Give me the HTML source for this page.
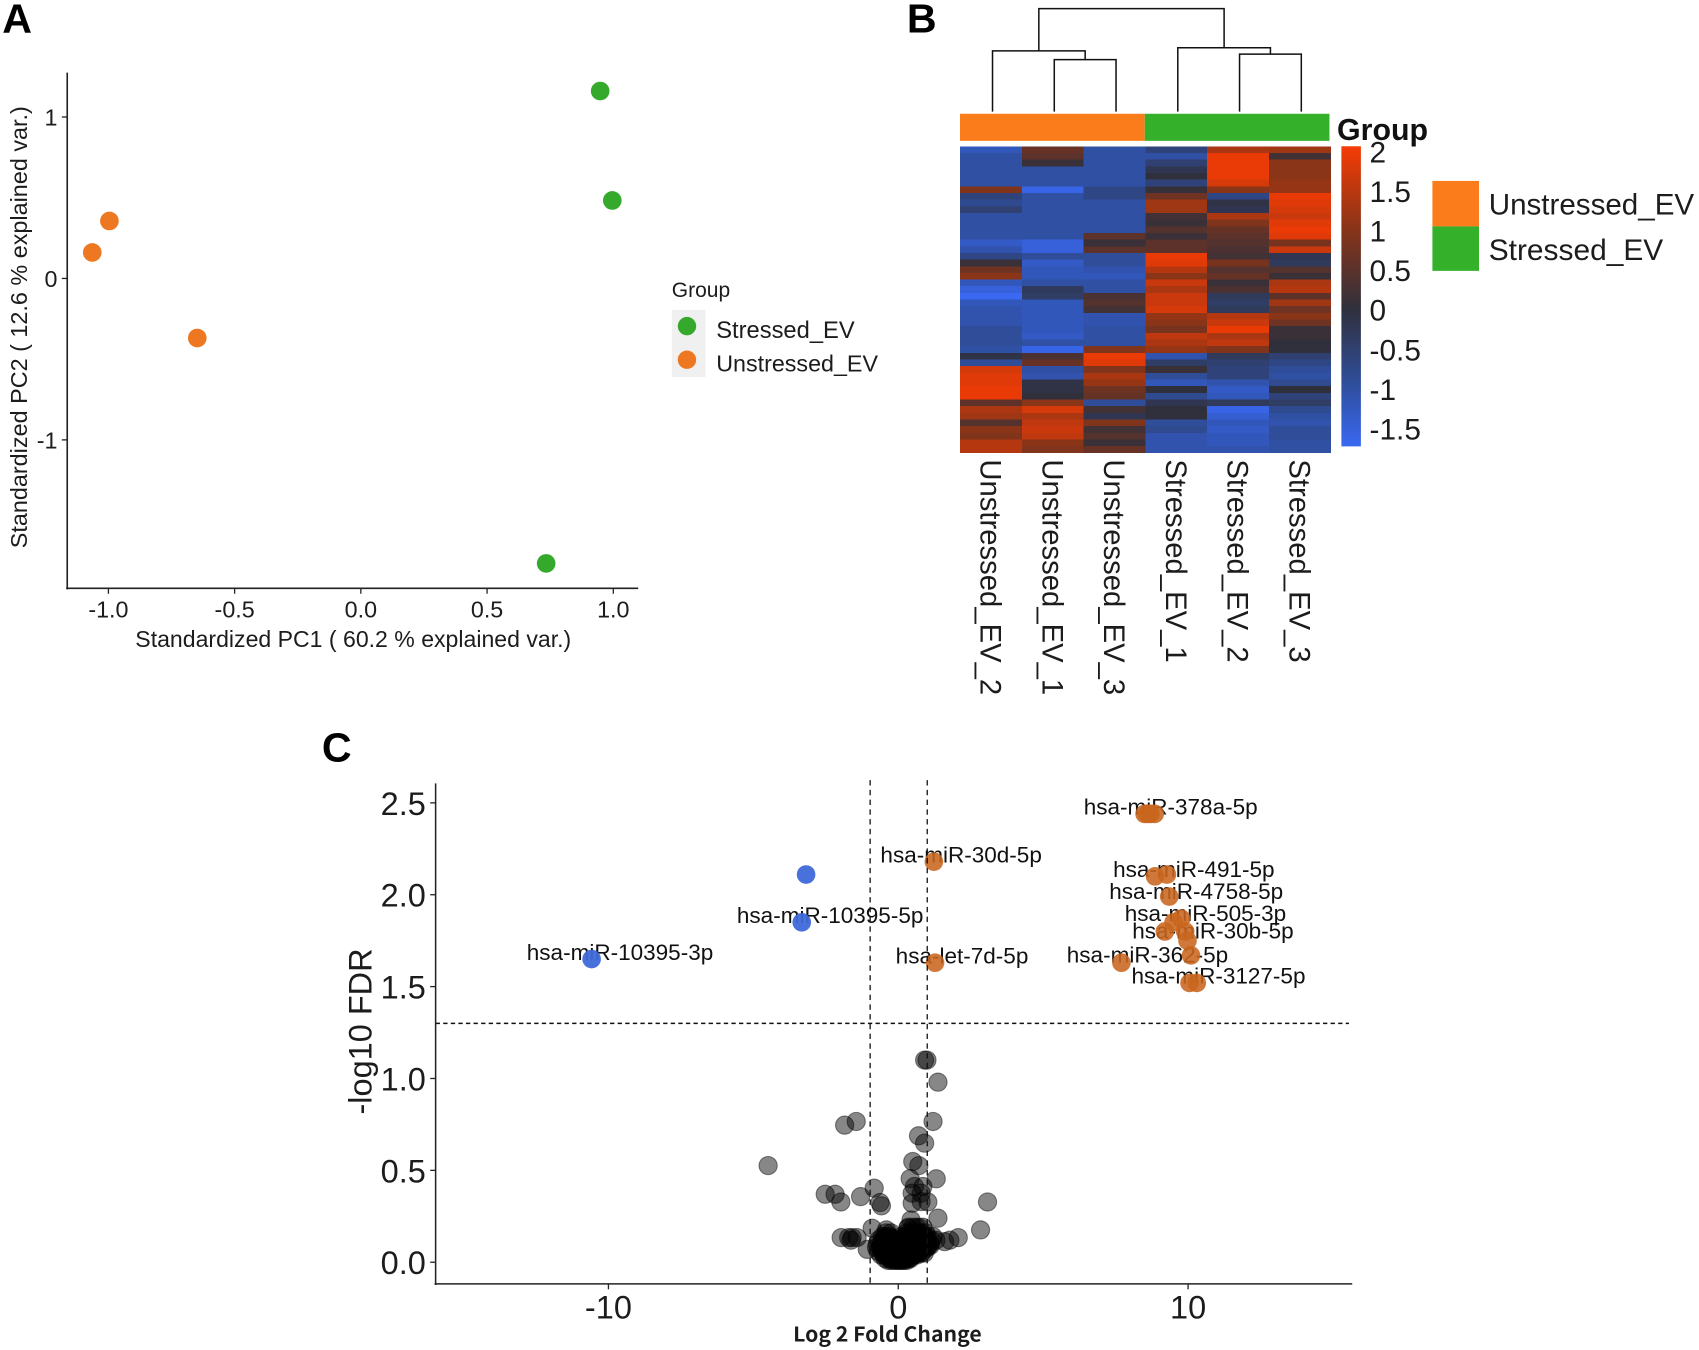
<!DOCTYPE html>
<html lang="en">
<head>
<meta charset="utf-8">
<title>PCA, heatmap and volcano plot of Stressed vs Unstressed EV miRNA</title>
<style>
html,body{margin:0;padding:0;background:#fff;width:1699px;height:1350px;overflow:hidden}
svg{display:block;font-family:"Liberation Sans",Arial,sans-serif;fill:#1c1c1c}
</style>
</head>
<body>
<svg id="fig" width="1699" height="1350" viewBox="0 0 1568 1246" xmlns="http://www.w3.org/2000/svg">
  <rect width="1568" height="1246" fill="#ffffff"/>
  <text x="2" y="30" font-size="38" font-weight="bold" fill="#000">A</text>
  <text x="837" y="30" font-size="38" font-weight="bold" fill="#000">B</text>
  <text x="297" y="703" font-size="38" font-weight="bold" fill="#000">C</text>

  <g id="panelA">
    <text x="326" y="597" font-size="21.3" text-anchor="middle">Standardized PC1 ( 60.2 % explained var.)</text>
    <text transform="translate(25,302) rotate(-90)" font-size="21.6" text-anchor="middle">Standardized PC2 ( 12.6 % explained var.)</text>
    <text x="620" y="274" font-size="19.4">Group</text>
    <rect x="620" y="286" width="31" height="62" fill="#f0f0f0"/>
    <circle cx="634" cy="301" r="8.5" fill="#35a92c"/>
    <circle cx="634" cy="332" r="8.5" fill="#ee7722"/>
    <text x="661" y="312" font-size="21.9">Stressed_EV</text>
    <text x="661" y="343" font-size="21.5">Unstressed_EV</text>
  </g>

  <g id="panelB">
    <rect x="886" y="105" width="170.5" height="25" fill="#fa7c1a"/>
    <rect x="1056.5" y="105" width="170.5" height="25" fill="#35b02a"/>
    <text x="1234" y="129" font-size="28" font-weight="bold" fill="#111">Group</text>
    <rect x="1322" y="167" width="43" height="42" fill="#fa7c1a"/>
    <rect x="1322" y="209" width="43" height="41" fill="#35b02a"/>
    <text x="1374" y="198" font-size="27.3">Unstressed_EV</text>
    <text x="1374" y="240" font-size="27.6">Stressed_EV</text>
  </g>

  <g id="panelC">
    <text transform="translate(343,952) rotate(-90)" font-size="30" text-anchor="middle">-log10 FDR</text>
    <text x="819" y="1238" font-size="19" font-weight="bold" text-anchor="middle" textLength="174" lengthAdjust="spacingAndGlyphs" style="font-family:'Noto Sans CJK JP','DejaVu Sans',sans-serif">Log 2 Fold Change</text>
  </g>
</svg>

<script>
// ---------- Panel A data ----------
const pcaXTicks = [-1.0, -0.5, 0.0, 0.5, 1.0];
const pcaYTicks = [1, 0, -1];
const stressedPC1 = [0.948, 0.996, 0.734];
const stressedPC2 = [1.161, 0.483, -1.765];
const unstressedPC1 = [-0.996, -1.064, -0.648];
const unstressedPC2 = [0.356, 0.161, -0.369];

// ---------- Panel B data ----------
const sampleNames = ['Unstressed_EV_2','Unstressed_EV_1','Unstressed_EV_3','Stressed_EV_1','Stressed_EV_2','Stressed_EV_3'];
const unstressed2 = [-1.2,-1,-1,-1,-1,-1,0.9,-0.6,-0.8,-0.5,-1,-1,-1,-1,-1.3,-1.1,-0.7,0.1,0.7,1,-1.2,-1.5,-1.7,-1.2,-1.1,-1.1,-1.1,-0.9,-0.9,-0.9,-1,-0.1,-0.9,1.7,1.8,1.8,1.9,1.9,0.5,1.3,1.2,0.4,1,0.9,1.4,1.4];
const unstressed1 = [0.6,0.5,0.1,-1,-1,-1,-1.6,-1,-1,-1,-1,-1,-1,-1,-1.5,-1.5,-0.9,-1.3,-1.2,-1.2,-1,-0.3,-0.4,-1.2,-1.2,-1.2,-1.2,-1.2,-1.3,-1,-1.6,0.3,0.6,-1,-1.1,-0.1,-0.1,0,1,1.7,1.3,1.5,1.6,1.5,1,0.9];
const unstressed3 = [-1,-1,-1,-1,-1,-1,-0.7,-0.7,-1,-1,-1,-1,-1,0.5,0.1,0.5,-0.9,-0.9,-1.1,-1.2,-1,-1,0.3,0.4,0.2,-1.1,-1.1,-1,-1,-1,0.9,1.9,1.8,0.9,1.3,1.1,0.7,0.6,-0.9,0.2,-0.2,0.9,0.2,0.4,0.1,0.6];
const stressed1 = [-0.6,-1,-0.5,-0.2,0,-0.6,0.05,0.7,1.2,1.2,0.2,0.1,0.4,0.1,0.5,0.5,1.9,1.8,1.4,1,1.6,1.3,1.6,1.6,1.7,1.1,1,0.8,1.5,1.3,1.1,-1.1,-0.4,0.1,-0.9,-1.2,0,-0.8,-0.2,0,0,-0.9,-0.8,-1.1,-1.1,-1.1];
const stressed2 = [1.3,1.9,1.9,1.9,1.9,1.7,1,-0.7,-0.1,-0.2,1.3,0.9,0.6,0.5,0.4,0.3,0.2,0.8,0.4,0.6,0.1,0.3,-0.3,-0.4,-0.3,1.4,1.6,1.9,1.3,1.5,0.9,-0.3,-0.5,-0.6,-0.6,-1.1,-1.3,-1.2,-0.3,-1.6,-1.4,-1.2,-1.3,-1.2,-1.2,-1.1];
const stressed3 = [1.2,0.2,1,1,1,1.1,1.1,1.9,1.8,1.7,1.6,1.8,1.9,1.8,0.8,1.6,-0.2,-0.3,0.4,0.1,1.3,1.4,0.5,1.2,0.7,1,0.7,0.1,0.1,0,0,-0.5,-0.7,-0.9,-1,-0.8,0,-0.6,-0.4,-0.8,-1,-1.1,-0.9,-0.9,-1,-1];
const heatColumns = [unstressed2, unstressed1, unstressed3, stressed1, stressed2, stressed3];
const colorbarTicks = ['2','1.5','1','0.5','0','-0.5','-1','-1.5'];
const colorValues = [-1.7, -1, 0, 1, 2];
const colorStops = [[58,104,242],[47,80,163],[48,48,60],[138,52,24],[245,60,5]];
// dendrogram: merge heights (fraction of tree height); leaves are column indices
const dendroTree = {h:1, l:{h:0.59, l:0, r:{h:0.505, l:1, r:2}}, r:{h:0.62, l:3, r:{h:0.558, l:4, r:5}}};

// ---------- Panel C data ----------
const volcanoXTicks = [-10, 0, 10];
const volcanoYTicks = ['0.0','0.5','1.0','1.5','2.0','2.5'];
const thresholdFdr = 1.3;
const thresholdLfc = [-0.97, 1];
const downLfc = [-3.18, -3.33, -10.58];
const downFdr = [2.11, 1.85, 1.65];
const upLfc = [8.5,8.6,8.7,8.85,1.23,1.27,8.86,9.27,9.35,9.5,9.76,9.2,9.9,9.98,7.7,10.1,10.05,10.3];
const upFdr = [2.44,2.44,2.44,2.44,2.18,1.63,2.10,2.11,1.99,1.85,1.87,1.80,1.80,1.75,1.63,1.67,1.52,1.52];
const geneLabels = ['hsa-miR-378a-5p','hsa-miR-30d-5p','hsa-miR-491-5p','hsa-miR-4758-5p','hsa-miR-505-3p','hsa-miR-30b-5p','hsa-miR-362-5p','hsa-miR-3127-5p','hsa-let-7d-5p','hsa-miR-10395-5p','hsa-miR-10395-3p'];
const geneLabelLfc = [9.4,2.17,10.2,10.28,10.6,10.86,8.6,11.05,2.2,-2.35,-9.6];
const geneLabelFdr = [2.43,2.17,2.09,1.97,1.85,1.755,1.625,1.51,1.62,1.84,1.64];
const nsLfc = [0.91,0.99,1.37,-1.45,-1.85,1.2,0.70,0.91,-4.49,0.5,0.71,0.41,1.31,-0.83,-2.52,-2.18,-1.98,-1.30,-0.63,-0.58,0.56,0.85,0.48,0.79,0.48,0.79,1.02,3.08,1.37,2.84,0.44,0.33,-0.9,-0.41,2.07,1.78,1.6,-1.97,-1.71,-1.59,-1.42,-1.63,-1.07,
 -0.35,-0.25,-0.15,-0.08,0,0.07,0.14,0.2,0.3,
 -0.45,-0.3,-0.2,-0.1,0.02,0.1,0.18,0.25,0.35,0.42,
 -0.6,-0.5,-0.38,-0.28,-0.18,-0.05,0.05,0.12,0.22,0.32,0.45,0.55,0.65,
 -0.7,-0.55,-0.42,-0.3,-0.12,-0.02,0.09,0.2,0.3,0.42,0.52,0.62,0.75,0.85,
 -0.75,-0.62,-0.48,-0.33,-0.2,-0.08,0.04,0.15,0.27,0.4,0.5,0.66,0.78,0.9,1.0,
 -0.72,-0.6,-0.45,-0.35,-0.22,-0.1,0.02,0.13,0.25,0.38,0.48,0.6,0.72,0.85,0.95,1.1,
 -0.68,-0.52,-0.4,-0.28,-0.12,0.06,0.2,0.32,0.45,0.58,0.7,0.82,0.98,1.15,1.3,
 -0.55,-0.45,-0.3,0.1,0.22,0.35,0.5,0.62,0.75,0.88,1.0,1.2,
 -0.42,-0.25,0.3,0.42,0.55,0.68,0.8,0.95,
 0.35,0.5,0.62,0.72,0.85,
 -0.5,-0.42,-0.34,-0.26,-0.18,0.15,0.24,0.33,0.42,0.51,0.6,0.69,0.78,0.87,0.96,
 -0.58,-0.5,-0.42,-0.34,-0.26,-0.18,-0.1,-0.02,0.06,0.14,0.22,0.3,0.38,0.46,0.54,0.62,0.7,0.78,0.86,0.94,1.02,1.1,
 -0.5,-0.4,-0.3,-0.2,-0.1,0,0.1,0.2,0.3,0.4,0.5,0.6,0.7,0.8,0.9,
 -0.35,-0.25,-0.15,-0.05,0.05,0.15,0.25,0.35,0.45];
const nsFdr = [1.10,1.10,0.98,0.766,0.746,0.766,0.688,0.648,0.526,0.548,0.526,0.455,0.454,0.403,0.37,0.37,0.328,0.357,0.325,0.307,0.412,0.412,0.376,0.376,0.321,0.33,0.328,0.328,0.24,0.176,0.23,0.185,0.185,0.176,0.134,0.12,0.112,0.134,0.134,0.134,0.134,0.12,0.07,
 0.01,0.01,0.01,0.01,0.01,0.01,0.01,0.01,0.01,
 0.02,0.02,0.02,0.02,0.02,0.02,0.02,0.02,0.02,0.02,
 0.04,0.04,0.04,0.04,0.04,0.04,0.04,0.04,0.04,0.04,0.04,0.04,0.04,
 0.06,0.06,0.06,0.06,0.06,0.06,0.06,0.06,0.06,0.06,0.06,0.06,0.06,0.06,
 0.08,0.08,0.08,0.08,0.08,0.08,0.08,0.08,0.08,0.08,0.08,0.08,0.08,0.08,0.08,
 0.1,0.1,0.1,0.1,0.1,0.1,0.1,0.1,0.1,0.1,0.1,0.1,0.1,0.1,0.1,0.1,
 0.12,0.12,0.12,0.12,0.12,0.12,0.12,0.12,0.12,0.12,0.12,0.12,0.12,0.12,0.12,
 0.14,0.14,0.14,0.14,0.14,0.14,0.14,0.14,0.14,0.14,0.14,0.14,
 0.16,0.16,0.16,0.16,0.16,0.16,0.16,0.16,
 0.19,0.19,0.19,0.19,0.19,
 0.13,0.13,0.13,0.13,0.13,0.13,0.13,0.13,0.13,0.13,0.13,0.13,0.13,0.13,0.13,
 0.09,0.09,0.09,0.09,0.09,0.09,0.09,0.09,0.09,0.09,0.09,0.09,0.09,0.09,0.09,0.09,0.09,0.09,0.09,0.09,0.09,0.09,
 0.05,0.05,0.05,0.05,0.05,0.05,0.05,0.05,0.05,0.05,0.05,0.05,0.05,0.05,0.05,
 0.03,0.03,0.03,0.03,0.03,0.03,0.03,0.03,0.03];

// ---------- helpers ----------
const NS = 'http://www.w3.org/2000/svg';
function mk(parent, tag, attrs, text) {
  const el = document.createElementNS(NS, tag);
  for (const k in attrs) el.setAttribute(k, attrs[k]);
  if (text !== undefined) el.textContent = text;
  parent.appendChild(el);
  return el;
}
function mark(el, name) {
  
  
  return el;
}
const AXIS = '#222';

// ---------- Panel A ----------
(function () {
  const g = document.getElementById('panelA');
  const x = v => 333 + v * 233;
  const y = v => 257 - v * 149;
  pcaXTicks.forEach(t => {
    mark(mk(g, 'line', {x1: x(t), x2: x(t), y1: 543, y2: 548, stroke: AXIS, 'stroke-width': 1.2}), 'pca-x-tick');
    mark(mk(g, 'text', {x: x(t), y: 570, 'font-size': 21.5, 'text-anchor': 'middle'}, t.toFixed(1)), 'pca-x-tick-label');
  });
  pcaYTicks.forEach(t => {
    mark(mk(g, 'line', {x1: 57, x2: 62, y1: y(t), y2: y(t), stroke: AXIS, 'stroke-width': 1.2}), 'pca-y-tick');
    mark(mk(g, 'text', {x: 53, y: y(t) + 8, 'font-size': 21.5, 'text-anchor': 'end'}, String(t)), 'pca-y-tick-label');
  });
  mark(mk(g, 'line', {x1: 62, x2: 62, y1: 67, y2: 544, stroke: AXIS, 'stroke-width': 1.5}), 'pca-y-axis');
  mark(mk(g, 'line', {x1: 61, x2: 589, y1: 543, y2: 543, stroke: AXIS, 'stroke-width': 1.5}), 'pca-x-axis');
  stressedPC1.forEach((v, i) => {
    mark(mk(g, 'circle', {cx: x(v), cy: y(stressedPC2[i]), r: 8.6, fill: '#35a92c'}), 'pca-point-stressed');
  });
  unstressedPC1.forEach((v, i) => {
    mark(mk(g, 'circle', {cx: x(v), cy: y(unstressedPC2[i]), r: 8.6, fill: '#ee7722'}), 'pca-point-unstressed');
  });
})();

// ---------- Panel B ----------
(function () {
  const g = document.getElementById('panelB');
  const left = 886, top = 135, w = 342 / 6, h = 283 / heatColumns[0].length;
  function color(v) {
    const c = Math.max(colorValues[0], Math.min(colorValues[colorValues.length - 1], v));
    let i = 0;
    while (i < colorValues.length - 2 && c > colorValues[i + 1]) i++;
    const t = (c - colorValues[i]) / (colorValues[i + 1] - colorValues[i]);
    const a = colorStops[i], b = colorStops[i + 1];
    return 'rgb(' + a.map((q, k) => Math.round(q + (b[k] - q) * t)).join(',') + ')';
  }
  heatColumns.forEach((col, c) => {
    col.forEach((v, r) => {
      mark(mk(g, 'rect', {x: left + c * w, y: top + r * h, width: w + 0.3, height: h + 0.3, fill: color(v), 'shape-rendering': 'crispEdges'}), 'heatmap-cell');
    });
  });
  sampleNames.forEach((s, c) => {
    const cx = left + (c + 0.5) * w;
    mark(mk(g, 'text', {transform: 'translate(' + (cx - 9.5) + ',424) rotate(90)', 'font-size': 27}, s), 'heatmap-column-label');
  });
  // dendrogram
  const base = 103, span = 95;
  const leafX = i => left + 1.5 + (i + 0.5) * w;
  const hy = v => base - v * span;
  function draw(n) {
    if (typeof n === 'number') return {x: leafX(n), y: base};
    const a = draw(n.l), b = draw(n.r), yy = hy(n.h);
    mark(mk(g, 'path', {d: 'M' + a.x + ' ' + a.y + 'V' + yy + 'H' + b.x + 'V' + b.y, fill: 'none', stroke: '#111', 'stroke-width': 1.4}), 'dendrogram-branch');
    return {x: (a.x + b.x) / 2, y: yy};
  }
  draw(dendroTree);
  // colorbar
  const defs = mk(g, 'defs', {});
  const grad = mk(defs, 'linearGradient', {id: 'cb', x1: 0, y1: 1, x2: 0, y2: 0});
  colorValues.forEach((v, i) => {
    mk(grad, 'stop', {offset: (v - colorValues[0]) / (colorValues[colorValues.length - 1] - colorValues[0]), 'stop-color': color(v)});
  });
  mark(mk(g, 'rect', {x: 1238, y: 135, width: 18, height: 277, fill: 'url(#cb)'}), 'colorbar');
  const cbY = v => 286 - v * 73;
  colorbarTicks.forEach(t => {
    mark(mk(g, 'text', {x: 1264, y: cbY(parseFloat(t)) + 10, 'font-size': 27.5}, t), 'colorbar-tick-label');
  });
})();

// ---------- Panel C ----------
(function () {
  const g = document.getElementById('panelC');
  const x = v => 829 + v * 26.75;
  const y = v => 1165 - v * 169.6;
  // non-significant points
  nsLfc.forEach((v, i) => {
    mark(mk(g, 'circle', {cx: x(v), cy: y(nsFdr[i]), r: 8.4, fill: '#000', 'fill-opacity': 0.47, stroke: '#000', 'stroke-opacity': 0.45, 'stroke-width': 1}), 'volcano-point-not-significant');
  });
  // gene labels under the coloured points
  geneLabels.forEach((s, i) => {
    mark(mk(g, 'text', {x: x(geneLabelLfc[i]), y: y(geneLabelFdr[i]) - 1, 'font-size': 20.8, 'text-anchor': 'middle', fill: '#111'}, s), 'volcano-gene-label');
  });
  downLfc.forEach((v, i) => {
    mark(mk(g, 'circle', {cx: x(v), cy: y(downFdr[i]), r: 8.6, fill: '#3f69d9', 'fill-opacity': 0.95}), 'volcano-point-down');
  });
  upLfc.forEach((v, i) => {
    mark(mk(g, 'circle', {cx: x(v), cy: y(upFdr[i]), r: 8.6, fill: '#c8651e', 'fill-opacity': 0.88}), 'volcano-point-up');
  });
  // thresholds
  thresholdLfc.forEach(v => {
    mark(mk(g, 'line', {x1: x(v), x2: x(v), y1: 720, y2: 1185, stroke: '#111', 'stroke-width': 1.2, 'stroke-dasharray': '5 4'}), 'volcano-lfc-threshold');
  });
  mark(mk(g, 'line', {x1: 402, x2: 1245, y1: y(thresholdFdr), y2: y(thresholdFdr), stroke: '#111', 'stroke-width': 1.4, 'stroke-dasharray': '4 3'}), 'volcano-fdr-threshold');
  // axes
  mark(mk(g, 'line', {x1: 402, x2: 402, y1: 723, y2: 1186, stroke: AXIS, 'stroke-width': 1.4}), 'volcano-y-axis');
  mark(mk(g, 'line', {x1: 401, x2: 1248, y1: 1185, y2: 1185, stroke: AXIS, 'stroke-width': 1.4}), 'volcano-x-axis');
  volcanoXTicks.forEach(t => {
    mark(mk(g, 'line', {x1: x(t), x2: x(t), y1: 1185, y2: 1190, stroke: AXIS, 'stroke-width': 1.2}), 'volcano-x-tick');
    mark(mk(g, 'text', {x: x(t), y: 1217, 'font-size': 30, 'text-anchor': 'middle'}, String(t)), 'volcano-x-tick-label');
  });
  volcanoYTicks.forEach(t => {
    const v = parseFloat(t);
    mark(mk(g, 'line', {x1: 397, x2: 402, y1: y(v), y2: y(v), stroke: AXIS, 'stroke-width': 1.2}), 'volcano-y-tick');
    mark(mk(g, 'text', {x: 393, y: y(v) + 11, 'font-size': 30, 'text-anchor': 'end'}, t), 'volcano-y-tick-label');
  });
})();
</script>
</body>
</html>
